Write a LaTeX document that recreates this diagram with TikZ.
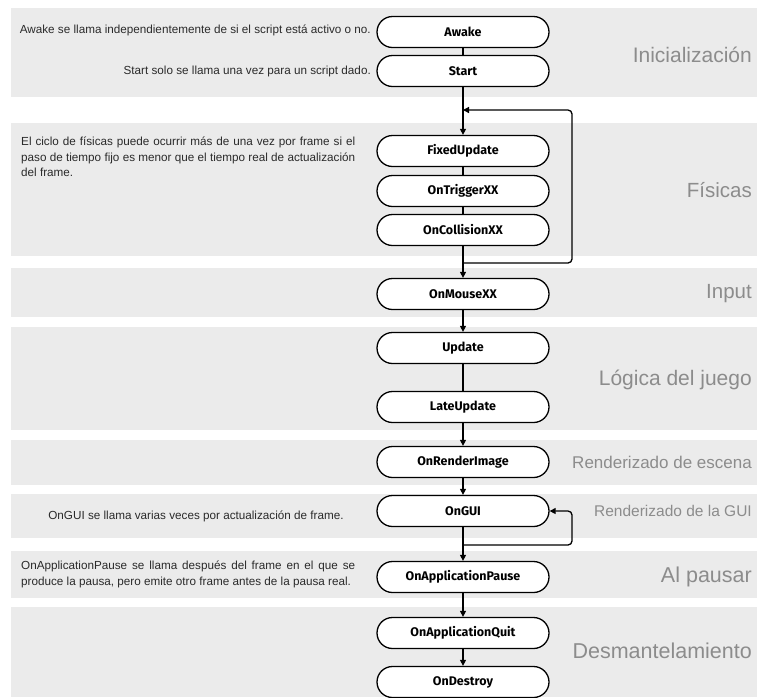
\documentclass[tikz,border=0pt]{standalone}
\usepackage{fontspec}
\setmainfont{Liberation Sans}
\newfontfamily\nodefont{Fira Sans}
\usetikzlibrary{arrows.meta}
\definecolor{band}{HTML}{EBEBEB}
\definecolor{lbl}{HTML}{8C8C8C}
\definecolor{txt}{HTML}{2A2A2A}
\begin{document}
\begin{tikzpicture}[x=1pt,y=-1pt,
  stepbox/.style={draw=black, line width=1.3pt, fill=white, rounded corners=15.5pt,
    minimum width=172pt, minimum height=31pt, inner sep=0pt,
    font=\nodefont\bfseries\fontsize{12.5}{14}\selectfont},
  arr/.style={-{Triangle[length=6pt,width=6pt]}, line width=1.3pt},
  ln/.style={line width=1.3pt},
  loopln/.style={-{Triangle[length=6pt,width=6pt]}, line width=1.3pt, rounded corners=4pt},
  phase/.style={anchor=east, text=lbl, inner sep=0pt},
  note/.style={text=txt, inner sep=0pt, font=\fontsize{11.7}{15.5}\selectfont}
]
\useasboundingbox (0,0) rectangle (757,697);
% bands
\fill[band] (11,8) rectangle (757,97);
\fill[band] (11,123) rectangle (757,256);
\fill[band] (11,268) rectangle (757,317);
\fill[band] (11,327) rectangle (757,430);
\fill[band] (11,440) rectangle (757,485);
\fill[band] (11,494) rectangle (757,538);
\fill[band] (11,551) rectangle (757,598);
\fill[band] (11,607) rectangle (757,697);

% phase labels
\node[phase, font=\fontsize{21}{24}\selectfont] (pIni) at (752,55) {Inicialización};
\node[phase, font=\fontsize{20.5}{24}\selectfont] (pFis) at (752,190) {Físicas};
\node[phase, font=\fontsize{20.5}{24}\selectfont] (pInp) at (752,294) {Input};
\node[phase, font=\fontsize{21}{24}\selectfont] (pLog) at (752,380) {Lógica del juego};
\node[phase, font=\fontsize{17}{20}\selectfont] (pRen) at (752,462) {Renderizado de escena};
\node[phase, font=\fontsize{15.5}{18}\selectfont] (pGui) at (752,511) {Renderizado de la GUI};
\node[phase, font=\fontsize{21.5}{24}\selectfont] (pPau) at (752,577) {Al pausar};
\node[phase, font=\fontsize{21.5}{24}\selectfont] (pDes) at (752,651) {Desmantelamiento};

% notes
\node[note, anchor=east] (nAwake) at (371,30) {Awake se llama independientemente de si el script está activo o no.};
\node[note, anchor=east] (nStart) at (371,71) {Start solo se llama una vez para un script dado.};
\node[note, anchor=north west, text width=334pt, align=justify] (nFis) at (21,137)
  {El ciclo de físicas puede ocurrir más de una vez por frame si el\linebreak paso de tiempo fijo es menor que el tiempo real de actualización\linebreak del frame.};
\node[note] (nGui) at (196,516) {OnGUI se llama varias veces por actualización de frame.};
\node[note, anchor=north west, text width=334pt, align=justify] (nPau) at (21,561)
  {OnApplicationPause se llama después del frame en el que se\linebreak produce la pausa, pero emite otro frame antes de la pausa real.};

% steps
\node[stepbox] (awake) at (463,32) {Awake};
\node[stepbox] (start) at (463,71) {Start};
\node[stepbox] (fixed) at (463,151) {FixedUpdate};
\node[stepbox] (trig) at (463,191) {OnTriggerXX};
\node[stepbox] (coll) at (463,230) {OnCollisionXX};
\node[stepbox] (mouse) at (463,294) {OnMouseXX};
\node[stepbox] (upd) at (463,348) {Update};
\node[stepbox] (late) at (463,407) {LateUpdate};
\node[stepbox] (rend) at (463,462) {OnRenderImage};
\node[stepbox] (gui) at (463,511) {OnGUI};
\node[stepbox] (pause) at (463,577) {OnApplicationPause};
\node[stepbox] (quit) at (463,633) {OnApplicationQuit};
\node[stepbox] (destroy) at (463,682) {OnDestroy};

% helper coordinates
\coordinate (fisBot) at (463,263);
\coordinate (fisTop) at (463,110);
\coordinate (guiBot) at (463,545);

% connectors
\draw[ln] (awake) -- (start);
\draw[arr] (start) -- (fixed);
\draw[ln] (fixed) -- (trig);
\draw[ln] (trig) -- (coll);
\draw[arr] (coll) -- (mouse);
\draw[loopln] (fisBot) -- (572,263) -- (572,110) -- (fisTop);
\draw[arr] (mouse) -- (upd);
\draw[ln] (upd) -- (late);
\draw[arr] (late) -- (rend);
\draw[arr] (rend) -- (gui);
\draw[arr] (gui) -- (pause);
\draw[loopln] (guiBot) -- (572,545) -- (572,511) -- (gui.east);
\draw[arr] (pause) -- (quit);
\draw[arr] (quit) -- (destroy);
\end{tikzpicture}
\end{document}
